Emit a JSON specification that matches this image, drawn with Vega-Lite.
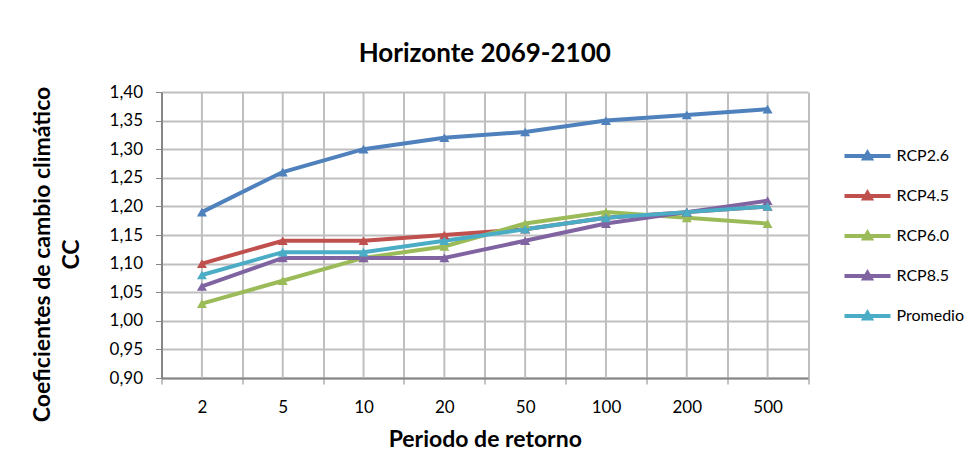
{
  "$schema": "https://vega.github.io/schema/vega-lite/v6.json",
  "width": 646.5,
  "height": 286,
  "autosize": {"type": "none"},
  "padding": {"left": 161.5, "top": 92, "right": 165.5, "bottom": 98},
  "background": "white",
  "config": {"font": "Lato", "view": {"stroke": null}},
  "title": {"text": "Horizonte 2069-2100", "fontSize": 26, "fontWeight": "bold", "color": "black", "offset": 16, "anchor": "middle"},
  "datasets": {
    "cc": [
      {"periodo": "2", "serie": "RCP2.6", "cc": 1.19},
      {"periodo": "5", "serie": "RCP2.6", "cc": 1.26},
      {"periodo": "10", "serie": "RCP2.6", "cc": 1.30},
      {"periodo": "20", "serie": "RCP2.6", "cc": 1.32},
      {"periodo": "50", "serie": "RCP2.6", "cc": 1.33},
      {"periodo": "100", "serie": "RCP2.6", "cc": 1.35},
      {"periodo": "200", "serie": "RCP2.6", "cc": 1.36},
      {"periodo": "500", "serie": "RCP2.6", "cc": 1.37},
      {"periodo": "2", "serie": "RCP4.5", "cc": 1.10},
      {"periodo": "5", "serie": "RCP4.5", "cc": 1.14},
      {"periodo": "10", "serie": "RCP4.5", "cc": 1.14},
      {"periodo": "20", "serie": "RCP4.5", "cc": 1.15},
      {"periodo": "50", "serie": "RCP4.5", "cc": 1.16},
      {"periodo": "100", "serie": "RCP4.5", "cc": 1.18},
      {"periodo": "200", "serie": "RCP4.5", "cc": 1.19},
      {"periodo": "500", "serie": "RCP4.5", "cc": 1.20},
      {"periodo": "2", "serie": "RCP6.0", "cc": 1.03},
      {"periodo": "5", "serie": "RCP6.0", "cc": 1.07},
      {"periodo": "10", "serie": "RCP6.0", "cc": 1.11},
      {"periodo": "20", "serie": "RCP6.0", "cc": 1.13},
      {"periodo": "50", "serie": "RCP6.0", "cc": 1.17},
      {"periodo": "100", "serie": "RCP6.0", "cc": 1.19},
      {"periodo": "200", "serie": "RCP6.0", "cc": 1.18},
      {"periodo": "500", "serie": "RCP6.0", "cc": 1.17},
      {"periodo": "2", "serie": "RCP8.5", "cc": 1.06},
      {"periodo": "5", "serie": "RCP8.5", "cc": 1.11},
      {"periodo": "10", "serie": "RCP8.5", "cc": 1.11},
      {"periodo": "20", "serie": "RCP8.5", "cc": 1.11},
      {"periodo": "50", "serie": "RCP8.5", "cc": 1.14},
      {"periodo": "100", "serie": "RCP8.5", "cc": 1.17},
      {"periodo": "200", "serie": "RCP8.5", "cc": 1.19},
      {"periodo": "500", "serie": "RCP8.5", "cc": 1.21},
      {"periodo": "2", "serie": "Promedio", "cc": 1.08},
      {"periodo": "5", "serie": "Promedio", "cc": 1.12},
      {"periodo": "10", "serie": "Promedio", "cc": 1.12},
      {"periodo": "20", "serie": "Promedio", "cc": 1.14},
      {"periodo": "50", "serie": "Promedio", "cc": 1.16},
      {"periodo": "100", "serie": "Promedio", "cc": 1.18},
      {"periodo": "200", "serie": "Promedio", "cc": 1.19},
      {"periodo": "500", "serie": "Promedio", "cc": 1.20}
    ]
  },
  "data": {"name": "cc"},
  "encoding": {
    "x": {
      "field": "periodo",
      "type": "ordinal",
      "sort": ["2", "5", "10", "20", "50", "100", "200", "500"],
      "scale": {"type": "band", "paddingInner": 0, "paddingOuter": 0},
      "axis": {
        "title": "Periodo de retorno",
        "labelAngle": 0,
        "tickBand": "extent",
        "grid": true,
        "gridColor": "#bfbfbf",
        "gridWidth": 2,
        "domainColor": "#868686",
        "domainWidth": 2,
        "tickColor": "#868686",
        "tickWidth": 1,
        "tickSize": 6,
        "labelFontSize": 17,
        "labelColor": "black",
        "labelPadding": 15,
        "titleFontSize": 23,
        "titleFontWeight": "bold",
        "titleColor": "black",
        "titlePadding": 13
      }
    }
  },
  "layer": [
    {
      "transform": [{"filter": "datum.serie === 'RCP2.6'"}],
      "mark": {"type": "rule", "color": "#bfbfbf", "strokeWidth": 2},
      "encoding": {}
    },
    {
      "mark": {"type": "line", "strokeWidth": 4},
      "encoding": {
        "y": {
          "field": "cc",
          "type": "quantitative",
          "scale": {"domain": [0.9, 1.4], "nice": false, "zero": false},
          "axis": {
            "title": ["Coeficientes de cambio climático", "CC"],
            "values": [0.9, 0.95, 1.0, 1.05, 1.1, 1.15, 1.2, 1.25, 1.3, 1.35, 1.4],
            "labelExpr": "replace(format(datum.value, '.2f'), '.', ',')",
            "labelOverlap": false,
            "grid": true,
            "gridColor": "#bfbfbf",
            "gridWidth": 2,
            "domainColor": "#868686",
            "domainWidth": 2,
            "tickColor": "#868686",
            "tickWidth": 1,
            "tickSize": 6,
            "labelFontSize": 17,
            "labelColor": "black",
            "labelPadding": 13,
            "titleFontSize": 23,
            "titleFontWeight": "bold",
            "titleColor": "black",
            "titleAngle": -90,
            "titleAlign": "center",
            "titleBaseline": "alphabetic",
            "titleLineHeight": 29,
            "titleX": -112.5,
            "titleY": 162
          }
        },
        "color": {
          "field": "serie",
          "type": "nominal",
          "scale": {
            "domain": ["RCP2.6", "RCP4.5", "RCP6.0", "RCP8.5", "Promedio"],
            "range": ["#4F81BD", "#C0504D", "#9BBB59", "#8064A2", "#4BACC6"]
          },
          "legend": {
            "title": null,
            "orient": "none",
            "legendX": 681,
            "legendY": 55,
            "symbolType": "M-1,0L1,0M-0.14,0.11L0,-0.13L0.14,0.11Z",
            "symbolSize": 2116,
            "symbolStrokeWidth": 4,
            "labelFontSize": 16,
            "labelColor": "black",
            "labelOffset": 4,
            "rowPadding": 22,
            "clipHeight": 18
          }
        }
      }
    },
    {
      "mark": {"type": "point", "shape": "triangle-up", "filled": true, "size": 100, "opacity": 1},
      "encoding": {
        "y": {
          "field": "cc",
          "type": "quantitative",
          "axis": {
            "title": ["Coeficientes de cambio climático", "CC"],
            "values": [0.9, 0.95, 1.0, 1.05, 1.1, 1.15, 1.2, 1.25, 1.3, 1.35, 1.4],
            "labelExpr": "replace(format(datum.value, '.2f'), '.', ',')",
            "labelOverlap": false,
            "grid": true,
            "gridColor": "#bfbfbf",
            "gridWidth": 2,
            "domainColor": "#868686",
            "domainWidth": 2,
            "tickColor": "#868686",
            "tickWidth": 1,
            "tickSize": 6,
            "labelFontSize": 17,
            "labelColor": "black",
            "labelPadding": 13,
            "titleFontSize": 23,
            "titleFontWeight": "bold",
            "titleColor": "black",
            "titleAngle": -90,
            "titleAlign": "center",
            "titleBaseline": "alphabetic",
            "titleLineHeight": 29,
            "titleX": -112.5,
            "titleY": 162
          }
        },
        "color": {"field": "serie", "type": "nominal"}
      }
    }
  ]
}
